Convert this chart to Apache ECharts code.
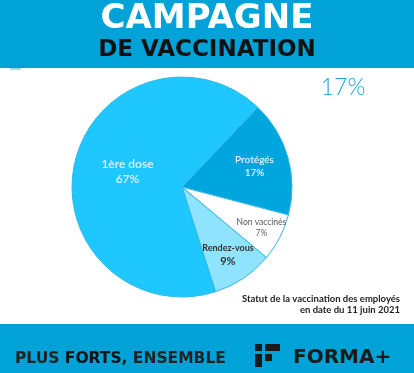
<!DOCTYPE html>
<html><head><meta charset="utf-8">
<script src="https://cdn.jsdelivr.net/npm/echarts@6/dist/echarts.min.js"></script>
<style>html,body{margin:0;padding:0;background:#fff}#c{width:414px;height:373px}</style>
</head><body><div id="c"></div>
<script>
const categories = ['Protégés', 'Non vaccinés', 'Rendez-vous', '1ère dose'];
const values = [17, 7, 9, 67];
const highlightValue = values[0];
const titleLine1 = 'CAMPAGNE';
const titleLine2 = 'DE VACCINATION';
const captionLines = ['Statut de la vaccination des employés', 'en date du 11 juin 2021'];

const sliceColors = ['#00a6dd', '#ffffff', '#8fe3fd', '#1ec8fe'];
const labelStyles = [
  { n: { fontSize: 10, color: '#e3f4fb', fontWeight: 600 }, v: { fontSize: 10, color: '#e3f4fb', fontWeight: 600 } },
  { n: { fontSize: 8.5, color: '#555555' }, v: { fontSize: 8.5, color: '#666666' } },
  { n: { fontSize: 9, color: '#333333', fontWeight: 'bold' }, v: { fontSize: 11, color: '#333333', fontWeight: 'bold' } },
  { n: { fontSize: 12, color: '#dff3fb', fontWeight: 600 }, v: { fontSize: 12, color: '#dff3fb', fontWeight: 600 } }
];
const radialFactor = [1.3, 1.54, 1.42, 1.0];
const CX = 182, CY = 187, R = 110;
const BLUE = '#00a2d7';

const chart = echarts.init(document.getElementById('c'), null, { renderer: 'canvas' });
const data = categories.map((name, i) => ({
  name, value: values[i],
  itemStyle: { color: sliceColors[i] },
  label: {
    formatter: '{n|{b}}\n{v|{c}%}',
    rich: {
      n: Object.assign({ fontFamily: 'Lato', lineHeight: labelStyles[i].n.fontSize + 3 }, labelStyles[i].n),
      v: Object.assign({ fontFamily: 'Lato', lineHeight: labelStyles[i].v.fontSize + 3 }, labelStyles[i].v)
    }
  }
}));

chart.setOption({
  animation: false,
  series: [{
    type: 'pie',
    center: [CX, CY],
    radius: [0, R],
    startAngle: 46.5,
    clockwise: true,
    silent: true,
    itemStyle: { borderColor: '#35b6e6', borderWidth: 1 },
    label: { show: true, position: 'inside', fontFamily: 'Lato' },
    labelLine: { show: false },
    labelLayout: function (p) {
      const r = p.labelRect;
      const lx = r.x + r.width / 2, ly = r.y + r.height / 2;
      const f = radialFactor[p.dataIndex];
      return { dx: (lx - CX) * (f - 1) + (p.dataIndex === 3 ? 2 : 0), dy: (ly - CY) * (f - 1) - (p.dataIndex === 3 ? 2 : 0) };
    },
    data: data
  }],
  graphic: [
    { type: 'rect', shape: { x: 0, y: 0, width: 414, height: 68 }, style: { fill: BLUE }, silent: true },
    { type: 'rect', shape: { x: 10, y: 68, width: 11, height: 2 }, style: { fill: '#9fdcf2' }, silent: true },
    { type: 'text', x: 207, y: 19, style: { text: titleLine1, fill: '#ffffff', font: 'bold 34px "DejaVu Sans"', align: 'center', verticalAlign: 'middle' } },
    { type: 'text', x: 207, y: 50, style: { text: titleLine2, fill: '#111111', font: 'bold 23px "DejaVu Sans"', align: 'center', verticalAlign: 'middle' } },
    { type: 'text', x: 343, y: 88, style: { text: highlightValue + '%', fill: '#1aa3dc', font: '300 23px Lato', align: 'center', verticalAlign: 'middle' } },
    { type: 'text', x: 400, y: 299, style: { text: captionLines[0], fill: '#222222', font: 'bold 9.5px Lato', align: 'right', verticalAlign: 'middle' } },
    { type: 'text', x: 400, y: 310, style: { text: captionLines[1], fill: '#222222', font: 'bold 9.5px Lato', align: 'right', verticalAlign: 'middle' } },
    { type: 'rect', shape: { x: 0, y: 324, width: 414, height: 49 }, style: { fill: BLUE }, silent: true },
    { type: 'text', x: 15, y: 359, style: {
        text: '{a|PLUS }{b|FORTS,}{a| ENSEMBLE}', verticalAlign: 'middle', align: 'left',
        rich: { a: { font: 'bold 15.5px "DejaVu Sans"', fill: '#222222' }, b: { font: 'bold 15.5px "DejaVu Sans"', fill: '#111111' } } } },
    { type: 'rect', shape: { x: 255, y: 344, width: 7, height: 7 }, style: { fill: '#1a1a1a' } },
    { type: 'rect', shape: { x: 265, y: 344, width: 15, height: 7 }, style: { fill: '#1a1a1a' } },
    { type: 'rect', shape: { x: 255, y: 354, width: 7, height: 13 }, style: { fill: '#1a1a1a' } },
    { type: 'rect', shape: { x: 265, y: 354, width: 7, height: 7 }, style: { fill: '#1a1a1a' } },
    { type: 'text', x: 293, y: 358, style: { text: 'FORMA+', fill: '#1a1a1a', font: 'bold 20px "DejaVu Sans"', align: 'left', verticalAlign: 'middle' } }
  ]
});
</script></body></html>
